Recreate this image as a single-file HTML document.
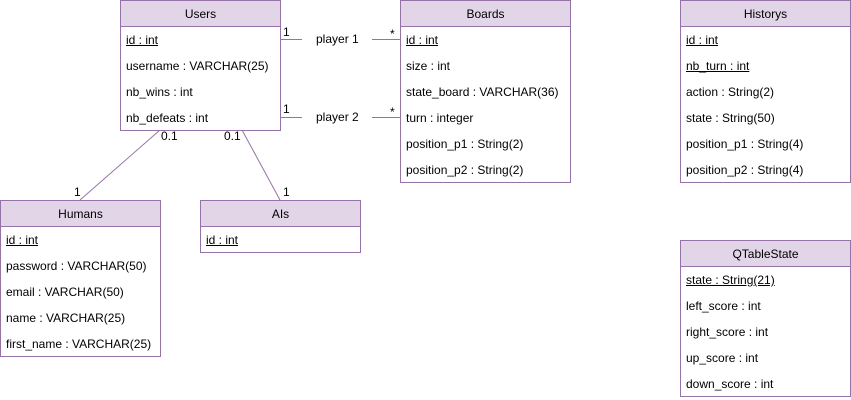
<!DOCTYPE html>
<html><head><style>
body{margin:0;width:851px;height:400px;background:#fff;position:relative;overflow:hidden;font-family:"Liberation Sans",Arial,sans-serif;font-size:12px;color:#000}
.b{position:absolute;border:1px solid #9673a6;background:#fff;box-sizing:border-box}
.h{height:26px;line-height:26px;text-align:center;background:#e1d5e7;border-bottom:1px solid #9673a6;box-sizing:border-box}
.r{height:26px;line-height:26px;padding-left:5px;white-space:nowrap}
.u{text-decoration:underline}
.t{position:absolute;font-size:12px;white-space:nowrap}
svg{position:absolute;left:0;top:0}
</style></head><body>
<svg width="851" height="400"><g stroke="#9673a6" stroke-width="1" fill="none">
<line x1="280" y1="39.5" x2="302" y2="39.5"/><line x1="372" y1="39.5" x2="400" y2="39.5"/>
<line x1="280" y1="117.5" x2="302" y2="117.5"/><line x1="372" y1="117.5" x2="400" y2="117.5"/>
<line x1="160" y1="130" x2="80" y2="200"/><line x1="242" y1="130" x2="280" y2="200"/>
</g><line x1="686.5" y1="46" x2="686.5" y2="70" stroke="#000"/></svg>
<div class="t" style="left:283px;top:25px">1</div>
<div class="t" style="left:316px;top:32px">player 1</div>
<div class="t" style="left:390px;top:27px">*</div>
<div class="t" style="left:283px;top:102px">1</div>
<div class="t" style="left:316px;top:110px">player 2</div>
<div class="t" style="left:390px;top:105px">*</div>
<div class="t" style="left:161px;top:129px">0.1</div>
<div class="t" style="left:224px;top:129px">0.1</div>
<div class="t" style="left:74px;top:185px">1</div>
<div class="t" style="left:283px;top:185px">1</div>

<div class="b" style="left:120px;top:0;width:161px;height:131px"><div class="h">Users</div>
<div class="r u">id : int</div><div class="r">username : VARCHAR(25)</div><div class="r">nb_wins : int</div><div class="r">nb_defeats : int</div></div>

<div class="b" style="left:400px;top:0;width:171px;height:183px"><div class="h">Boards</div>
<div class="r u">id : int</div><div class="r">size : int</div><div class="r">state_board : VARCHAR(36)</div><div class="r">turn : integer</div><div class="r">position_p1 : String(2)</div><div class="r">position_p2 : String(2)</div></div>

<div class="b" style="left:680px;top:0;width:171px;height:183px"><div class="h">Historys</div>
<div class="r u">id : int</div><div class="r u">nb_turn : int</div><div class="r">action : String(2)</div><div class="r">state : String(50)</div><div class="r">position_p1 : String(4)</div><div class="r">position_p2 : String(4)</div></div>

<div class="b" style="left:0;top:200px;width:161px;height:157px"><div class="h">Humans</div>
<div class="r u">id : int</div><div class="r">password : VARCHAR(50)</div><div class="r">email : VARCHAR(50)</div><div class="r">name : VARCHAR(25)</div><div class="r">first_name : VARCHAR(25)</div></div>

<div class="b" style="left:200px;top:200px;width:161px;height:53px"><div class="h">AIs</div>
<div class="r u">id : int</div></div>

<div class="b" style="left:680px;top:240px;width:171px;height:157px"><div class="h">QTableState</div>
<div class="r u">state : String(21)</div><div class="r">left_score : int</div><div class="r">right_score : int</div><div class="r">up_score : int</div><div class="r">down_score : int</div></div>
</body></html>
